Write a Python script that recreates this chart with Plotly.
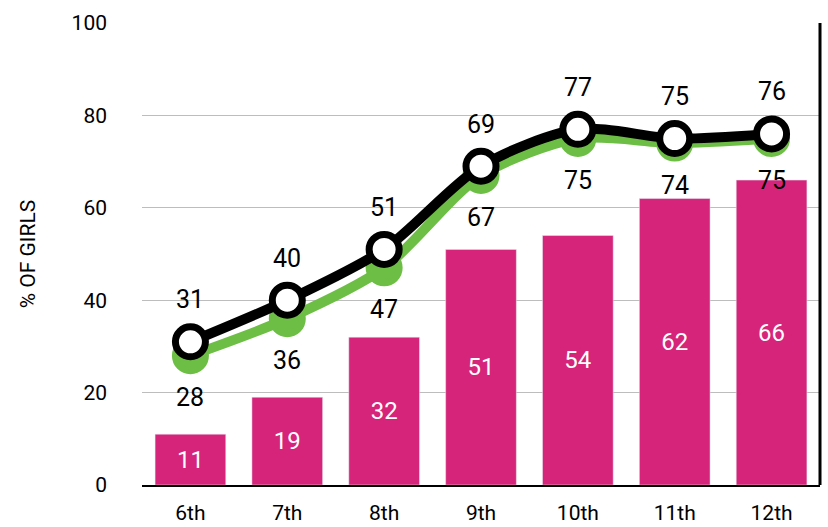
import plotly.graph_objects as go

grades = ["6th", "7th", "8th", "9th", "10th", "11th", "12th"]
bar_values = [11, 19, 32, 51, 54, 62, 66]
green_values = [28, 36, 47, 67, 75, 74, 75]
black_values = [31, 40, 51, 69, 77, 75, 76]
y_ticks = [0, 20, 40, 60, 80, 100]

FONT = "Roboto, DejaVu Sans, sans-serif"
MAGENTA = "#D6247A"
GREEN = "#6DBE45"

fig = go.Figure()
fig.add_trace(go.Bar(
    x=grades, y=bar_values, marker_color=MAGENTA, width=0.73,
    text=[str(v) for v in bar_values], textposition="inside",
    insidetextanchor="middle", textangle=0,
    textfont=dict(color="white", size=24, family=FONT),
    cliponaxis=False,
))
fig.add_trace(go.Scatter(
    x=grades, y=green_values, mode="lines+markers",
    line=dict(color=GREEN, width=10, shape="spline", smoothing=0.8),
    marker=dict(size=30, color=GREEN, line=dict(color=GREEN, width=7)),
    cliponaxis=False,
))
fig.add_trace(go.Scatter(
    x=grades, y=black_values, mode="lines+markers",
    line=dict(color="black", width=10, shape="spline", smoothing=0.8),
    marker=dict(size=30, color="white", line=dict(color="black", width=7)),
    cliponaxis=False,
))

for g, v in zip(grades, black_values):
    fig.add_annotation(x=g, y=v, text=str(v), showarrow=False, yshift=42,
                       font=dict(size=25, color="black", family=FONT))
for g, v in zip(grades, green_values):
    fig.add_annotation(x=g, y=v, text=str(v), showarrow=False, yshift=-42,
                       font=dict(size=25, color="black", family=FONT))

fig.add_shape(type="line", xref="paper", yref="paper", x0=1, x1=1, y0=0, y1=1,
              line=dict(color="black", width=3))

fig.update_layout(
    width=828, height=527,
    margin=dict(l=142, r=8, t=23, b=42),
    paper_bgcolor="white", plot_bgcolor="white",
    showlegend=False,
    font=dict(family=FONT, size=21, color="black"),
    xaxis=dict(showline=True, linecolor="black", linewidth=2, ticks="",
               tickfont=dict(size=21), showgrid=False, range=[-0.5, 6.5],
               automargin=False, ticklabelstandoff=8),
    yaxis=dict(range=[0, 100], tickvals=y_ticks, showgrid=True, gridcolor="#BDBDBD",
               gridwidth=1, zeroline=False, showline=False, ticks="",
               tickfont=dict(size=21), ticklabelstandoff=34, automargin=False,
               title=dict(text="% OF GIRLS", font=dict(size=21), standoff=30)),
)

fig.write_html(
    "out.html",
    config={"displayModeBar": False},
    post_script="document.body.style.margin='0';document.body.style.overflow='hidden';",
)
